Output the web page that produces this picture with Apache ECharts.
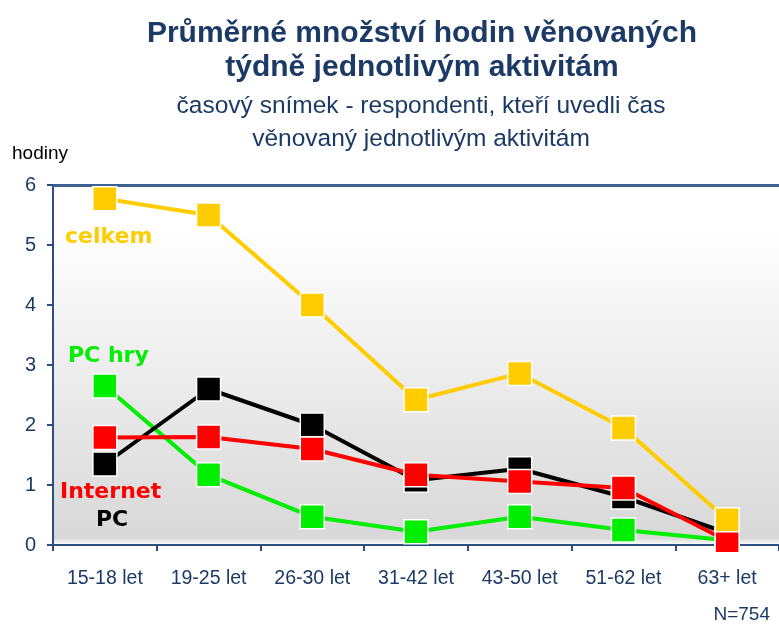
<!DOCTYPE html>
<html><head><meta charset="utf-8">
<script src="https://cdn.jsdelivr.net/npm/echarts@6/dist/echarts.min.js"></script>
<style>html,body{margin:0;padding:0;background:#fff}#c{width:779px;height:629px}</style>
</head><body><div id="c"></div>
<script>
const categories = ['15-18 let','19-25 let','26-30 let','31-42 let','43-50 let','51-62 let','63+ let'];
const celkem   = [5.77, 5.50, 4.00, 2.42, 2.86, 1.95, 0.42];
const pc       = [1.35, 2.60, 2.00, 1.08, 1.27, 0.80, 0.20];
const internet = [1.79, 1.80, 1.60, 1.17, 1.06, 0.95, 0.07];
const pcHry    = [2.65, 1.17, 0.47, 0.22, 0.47, 0.25, 0.08];
const yMin = 0, yMax = 6, yStep = 1;
const titleLines = ['Průměrné množství hodin věnovaných', 'týdně jednotlivým aktivitám'];
const subLines = ['časový snímek - respondenti, kteří uvedli čas', 'věnovaný jednotlivým aktivitám'];
const seriesNames = ['PC', 'Internet', 'PC hry', 'celkem'];

const navy = '#1b3a66';
const font = 'Liberation Sans';
const chart = echarts.init(document.getElementById('c'), null, {renderer: 'canvas'});

function mkSeries(name, data, color, z) {
  return {
    name, type: 'line', data, z,
    symbol: 'rect', symbolSize: 24,
    lineStyle: {color, width: 4},
    itemStyle: {color, borderColor: '#ffffff', borderWidth: 1.5},
    emphasis: {disabled: true},
    animation: false
  };
}

const graphics = [];
const titleY = [34, 68], subY = [106, 139];
titleLines.forEach((t, i) => graphics.push({
  type: 'text', x: 422, y: titleY[i],
  style: {text: t, font: 'bold 30px "' + font + '"', fill: navy, textAlign: 'center', textVerticalAlign: 'middle'}
}));
subLines.forEach((t, i) => graphics.push({
  type: 'text', x: 421, y: subY[i],
  style: {text: t, font: '24.5px "' + font + '"', fill: navy, textAlign: 'center', textVerticalAlign: 'middle'}
}));
graphics.push({type: 'text', x: 12, y: 154, style: {text: 'hodiny', font: '19px "' + font + '"', fill: '#000', textVerticalAlign: 'middle'}});
graphics.push({type: 'text', x: 770, y: 615, style: {text: 'N=754', font: '19px "' + font + '"', fill: navy, textAlign: 'right', textVerticalAlign: 'middle'}});
const lbl = [
  [seriesNames[3], 65, 237, '#ffcc00'],
  [seriesNames[2], 68, 356, '#00ee00'],
  [seriesNames[1], 60, 492, '#ff0000'],
  [seriesNames[0], 96, 520, '#000000']
];
lbl.forEach(([t, x, y, c]) => graphics.push({
  type: 'text', x, y, z: 100,
  style: {text: t, font: 'bold 22px "DejaVu Sans"', fill: c, textVerticalAlign: 'middle'}
}));

chart.setOption({
  animation: false,
  backgroundColor: '#ffffff',
  textStyle: {fontFamily: font},
  grid: {
    left: 53, top: 185, bottom: 84, width: 732, show: true,
    borderWidth: 0,
    backgroundColor: new echarts.graphic.LinearGradient(0, 0, 0, 1, [
      {offset: 0, color: '#ffffff'},
      {offset: 0.12, color: '#ffffff'},
      {offset: 0.98, color: '#d8d8d8'},
      {offset: 1, color: '#ffffff'}
    ])
  },
  xAxis: [{
    type: 'category', data: categories, boundaryGap: true,
    axisLine: {lineStyle: {color: '#2a4f80', width: 2}},
    axisTick: {show: true, length: 6, lineStyle: {color: '#2a4f80', width: 2}},
    axisLabel: {color: navy, fontSize: 19.5, margin: 24, fontFamily: font}
  }, {
    type: 'category', data: categories, position: 'top',
    axisLine: {lineStyle: {color: '#3d6291', width: 3}},
    axisTick: {show: false}, axisLabel: {show: false}
  }],
  yAxis: {
    type: 'value', min: yMin, max: yMax, interval: yStep,
    axisLine: {show: true, lineStyle: {color: '#2a4f80', width: 2}},
    axisTick: {show: true, length: 6, lineStyle: {color: '#2a4f80', width: 2}},
    axisLabel: {color: navy, fontSize: 20, margin: 17, fontFamily: font},
    splitLine: {show: false}
  },
  graphic: graphics,
  series: [
    mkSeries(seriesNames[2], pcHry, '#00ee00', 2),
    mkSeries(seriesNames[0], pc, '#000000', 3),
    mkSeries(seriesNames[1], internet, '#ff0000', 4),
    mkSeries(seriesNames[3], celkem, '#ffcc00', 5)
  ]
});
</script></body></html>
